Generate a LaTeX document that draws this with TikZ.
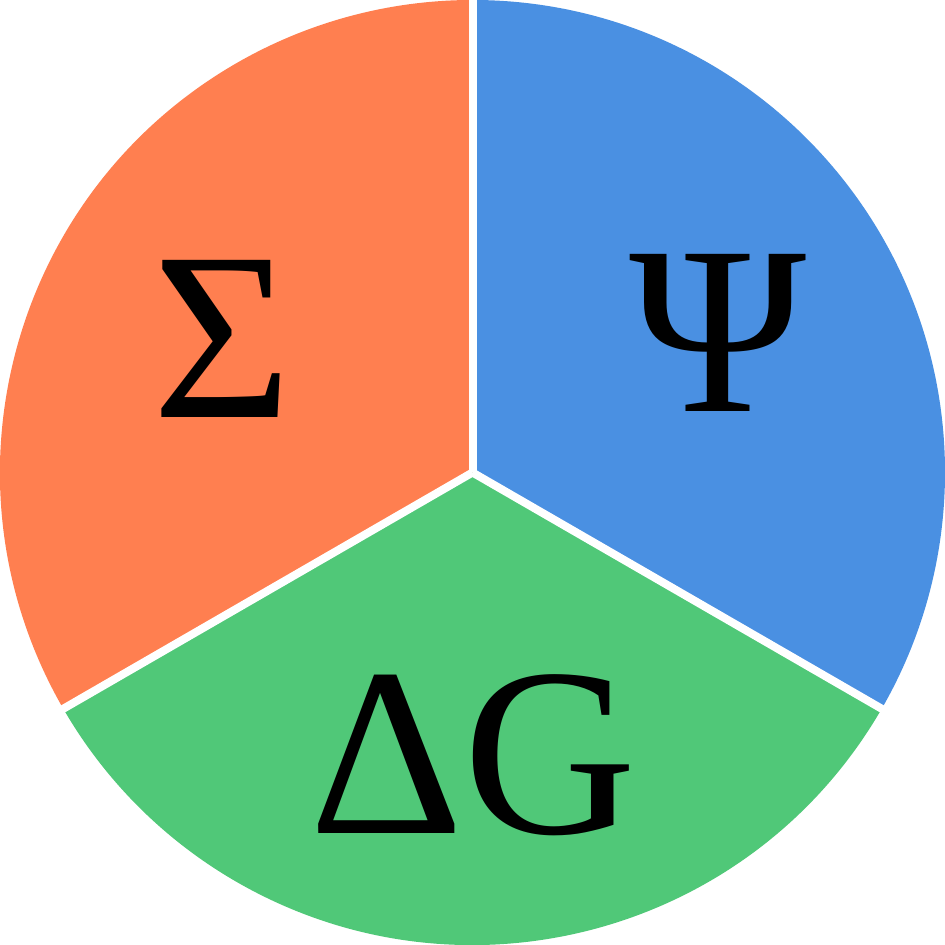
\documentclass[tikz,border=0pt]{standalone}
\usepackage{fontspec}
\setmainfont{Liberation Serif}
\definecolor{pieorange}{HTML}{FF7F50}
\definecolor{pieblue}{HTML}{4A90E2}
\definecolor{piegreen}{HTML}{50C878}
\begin{document}
\begin{tikzpicture}[x=1pt,y=1pt,
  sep/.style={draw=white,line width=8pt},
  lbl/.style={anchor=base,inner sep=0pt,font=\fontsize{240}{240}\selectfont}]
\useasboundingbox (0,0) rectangle (945,945);
\fill[white] (0,0) rectangle (945,945);
\coordinate (c) at (472.5,472.5);
\fill[pieblue] (c) -- ++(90:472.5) arc[start angle=90,end angle=-30,radius=472.5] -- cycle;
\fill[piegreen] (c) -- ++(-30:472.5) arc[start angle=-30,end angle=-150,radius=472.5] -- cycle;
\fill[pieorange] (c) -- ++(210:472.5) arc[start angle=210,end angle=90,radius=472.5] -- cycle;
\path (c) ++(90:476) coordinate (e1);
\path (c) ++(-30:476) coordinate (e2);
\path (c) ++(210:476) coordinate (e3);
\draw[sep] (c) -- (e1);
\draw[sep] (c) -- (e2);
\draw[sep] (c) -- (e3);
\node[lbl] (sigma) at (222,527) {Σ};
\node[lbl] (psi) at (718,533) {Ψ};
\node[lbl] (dg) at (473,111) {ΔG};
\end{tikzpicture}
\end{document}
